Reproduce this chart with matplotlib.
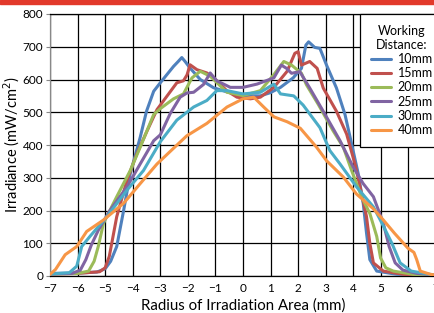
import numpy as np
import matplotlib
matplotlib.use("Agg")
import matplotlib.pyplot as plt
from matplotlib.patches import Rectangle

plt.rcParams['font.family'] = ['Lato', 'DejaVu Sans']

# irradiance profiles (mW/cm2), one per working distance
labels = ['10mm', '15mm', '20mm', '25mm', '30mm', '40mm']
colors = ['#4F81BD', '#C0504D', '#9BBB59', '#8064A2', '#4BACC6', '#F79646']

x10 = [-7, -6, -5.3, -5.0, -4.8, -4.58, -4.33, -4.09, -3.73, -3.5, -3.24, -3.0, -2.52, -2.35, -2.22, -2.1,
       -1.92, -1.55, -1.07, -0.58, 0, 0.63, 1.0, 1.36, 1.82, 2.12, 2.28, 2.38, 2.6, 2.79, 3.03, 3.39, 3.7,
       3.94, 4.18, 4.36, 4.48, 4.6, 4.85, 5.58, 6.5, 7]
y10 = [8, 9, 12, 22, 45, 90, 200, 312, 423, 503, 564, 590, 640, 655, 667, 655, 635, 600, 575, 562, 551,
       550, 560, 576, 605, 634, 705, 715, 698, 695, 644, 574, 493, 403, 312, 222, 131, 50, 15, 5, 3, 2]

x15 = [-7, -6, -5.2, -5.0, -4.85, -4.76, -4.58, -4.21, -3.85, -3.48, -3.12, -2.76, -2.4, -2.16, -2.03,
       -1.92, -1.67, -1.31, -0.95, -0.58, -0.22, 0.27, 0.63, 1.12, 1.6, 1.88, 2.0, 2.12, 2.42, 2.69, 2.91,
       3.39, 3.76, 4.06, 4.3, 4.48, 4.6, 4.73, 5.09, 5.82, 6.5, 7]
y15 = [6, 8, 13, 25, 60, 100, 181, 292, 373, 443, 508, 549, 590, 596, 614, 645, 630, 620, 596, 565, 546,
       541, 546, 576, 625, 680, 685, 644, 655, 634, 574, 503, 433, 342, 252, 181, 100, 40, 15, 5, 3, 2]

x20 = [-7, -6, -5.6, -5.4, -5.25, -5.06, -4.58, -4.09, -3.73, -3.24, -3.0, -2.52, -2.16, -1.85, -1.55,
       -1.19, -0.58, 0, 0.63, 1.12, 1.48, 1.76, 2.12, 2.3, 2.73, 3.27, 3.64, 3.94, 4.3, 4.6, 4.85, 4.99,
       5.18, 5.45, 6.18, 7]
y20 = [6, 8, 15, 45, 90, 161, 242, 322, 393, 493, 511, 541, 556, 605, 625, 610, 561, 551, 566, 615, 655,
       644, 619, 584, 524, 443, 393, 322, 242, 191, 121, 55, 25, 15, 5, 2]

x25 = [-7, -6.2, -5.9, -5.7, -5.5, -5.24, -4.82, -4.21, -3.73, -3.24, -3.0, -2.64, -2.28, -2.03, -1.79,
       -1.43, -1.19, -0.95, -0.46, 0, 0.51, 1.12, 1.39, 1.58, 1.76, 2.06, 2.42, 2.91, 3.52, 4.0, 4.36, 4.73,
       5.09, 5.3, 5.52, 5.8, 6.3, 7]
y25 = [6, 8, 18, 50, 95, 141, 201, 272, 342, 413, 431, 496, 546, 559, 561, 585, 620, 596, 576, 576, 586,
       605, 644, 634, 619, 624, 574, 503, 413, 332, 282, 242, 161, 90, 40, 18, 8, 3]

x30 = [-7, -6.3, -6.03, -5.85, -5.55, -4.94, -4.21, -3.61, -3.0, -2.4, -1.79, -1.31, -0.95, -0.58, 0,
       0.63, 1.12, 1.36, 1.84, 2.18, 2.79, 3.15, 3.52, 4.12, 4.73, 4.98, 5.4, 5.7, 6.1, 6.79, 7]
y30 = [6, 10, 30, 90, 121, 181, 262, 322, 410, 476, 516, 536, 566, 566, 556, 561, 586, 556, 550, 522, 453,
       383, 342, 272, 211, 171, 100, 40, 15, 5, 3]

x40 = [-7, -6.8, -6.45, -6.03, -5.67, -5.06, -4.33, -3.73, -3.12, -2.52, -2.04, -1.31, -0.58, 0, 0.39,
       0.75, 1.12, 1.6, 2.08, 2.67, 3.03, 3.64, 4.12, 4.73, 5.09, 5.5, 5.98, 6.2, 6.3, 6.43, 6.8, 7]
y40 = [5, 20, 65, 90, 136, 171, 222, 282, 342, 390, 428, 466, 516, 541, 546, 516, 486, 471, 451, 393,
       352, 302, 250, 205, 171, 130, 85, 72, 50, 15, 5, 3]

xs = [x10, x15, x20, x25, x30, x40]
ys = [y10, y15, y20, y25, y30, y40]

fig = plt.figure(figsize=(4.35, 3.13), dpi=100)
fig.patches.append(Rectangle((0, 1 - 4 / 313), 1, 4 / 313, transform=fig.transFigure,
                             color='#e2392b', zorder=0))
ax = fig.add_axes([50 / 435, 37 / 313, 386 / 435, 262 / 313])

for x, y, c, lab in zip(xs, ys, colors, labels):
    ax.plot(x, y, color=c, lw=2.2, label=lab, solid_joinstyle='round', solid_capstyle='round', zorder=3)

ax.set_xlim(-7, 7)
ax.set_ylim(0, 800)
ax.set_xticks(np.arange(-7, 8, 1))
ax.set_yticks(np.arange(0, 801, 100))
ax.grid(True, color='black', lw=0.9, zorder=1)
ax.set_axisbelow(True)
ax.tick_params(axis='x', length=0, labelsize=8.5, pad=5)
ax.tick_params(axis='y', length=3, labelsize=8.5, pad=2, color='#888888')
for s in ax.spines.values():
    s.set_color('black')
    s.set_linewidth(0.9)
ax.spines['left'].set_color('#888888')

ax.set_xlabel('Radius of Irradiation Area (mm)', fontsize=10.8, labelpad=3)
ax.set_ylabel('Irradiance (mW/cm$^2$)', fontsize=10.5, labelpad=0)

leg = ax.legend(loc='upper left', bbox_to_anchor=(310 / 386, 1.0), borderaxespad=0,
                title='Working\nDistance:', fontsize=9, title_fontsize=9,
                frameon=True, fancybox=False, framealpha=1, edgecolor='black',
                handlelength=1.6, handletextpad=0.55, labelspacing=0.18, borderpad=0.85)
leg.get_title().set_multialignment('center')
leg.get_frame().set_linewidth(0.9)
leg.set_zorder(5)

fig.savefig('out.png', dpi=100)
